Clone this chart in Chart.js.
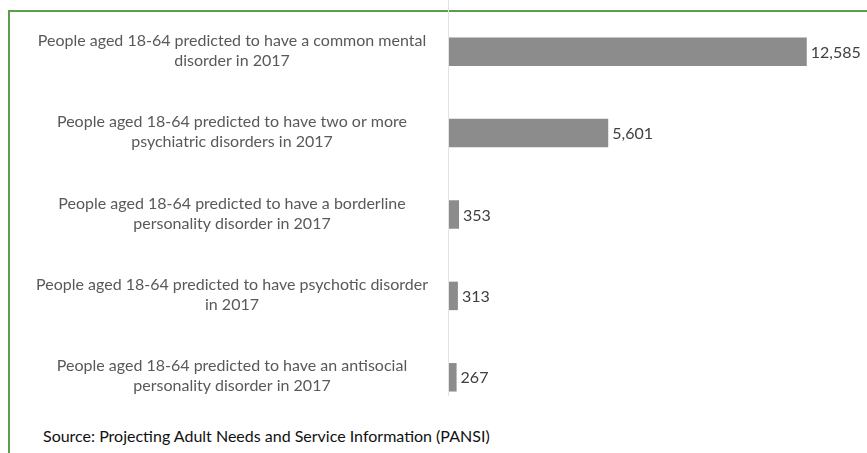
<!DOCTYPE html>
<html>
<head>
<meta charset="utf-8">
<script src="https://cdn.jsdelivr.net/npm/chart.js@4"></script>
<style>
  body { margin: 0; background: #fff; }
  #wrap { position: relative; width: 867px; height: 453px; overflow: hidden; }
  #frame { position: absolute; left: 8px; top: 10px; width: 900px; height: 500px;
           border-top: 2px solid #5b9d4c; border-left: 2px solid #5b9d4c; }
  #chart { position: absolute; left: 0; top: 0; }
  #source { position: absolute; left: 43px; top: 426px; font: 16px Lato, "Open Sans", sans-serif; color: #111; }
</style>
</head>
<body>
<div id="wrap">
  <div id="frame"></div>
  <canvas id="chart" width="867" height="420"></canvas>
  <div id="source">Source: Projecting Adult Needs and Service Information (PANSI)</div>
</div>
<script>
const categories = [
  ['People aged 18-64 predicted to have a common mental', 'disorder in 2017'],
  ['People aged 18-64 predicted to have two or more', 'psychiatric disorders in 2017'],
  ['People aged 18-64 predicted to have a borderline', 'personality disorder in 2017'],
  ['People aged 18-64 predicted to have psychotic disorder', 'in 2017'],
  ['People aged 18-64 predicted to have an antisocial', 'personality disorder in 2017']
];
const values = [12585, 5601, 353, 313, 267];

const fontFamily = 'Lato, "Open Sans", sans-serif';
const axisX = 449;
const labelCenter = 232;

// category labels, centred in the left column at each tick of the y scale
const categoryLabels = {
  id: 'categoryLabels',
  afterDraw(chart) {
    const ctx = chart.ctx;
    const y = chart.scales.y;
    ctx.save();
    ctx.font = '16px ' + fontFamily;
    ctx.fillStyle = '#595959';
    ctx.textAlign = 'center';
    ctx.textBaseline = 'middle';
    categories.forEach((lines, i) => {
      const cy = y.getPixelForTick(i);
      lines.forEach((s, j) => {
        ctx.fillText(s, labelCenter, cy + (j - (lines.length - 1) / 2) * 20 - 1);
      });
    });
    ctx.restore();
  }
};

// thin vertical axis line at zero, running from the top edge down past the last bar
const zeroLine = {
  id: 'zeroLine',
  beforeDatasetsDraw(chart) {
    const ctx = chart.ctx;
    const x = Math.round(chart.scales.x.getPixelForValue(0)) - 0.5;
    ctx.save();
    ctx.strokeStyle = '#e3e3e3';
    ctx.lineWidth = 1;
    ctx.beginPath();
    ctx.moveTo(x, 0);
    ctx.lineTo(x, chart.chartArea.bottom - 22);
    ctx.stroke();
    ctx.restore();
  }
};

const valueLabels = {
  id: 'valueLabels',
  afterDatasetsDraw(chart) {
    const ctx = chart.ctx;
    const meta = chart.getDatasetMeta(0);
    ctx.save();
    ctx.font = '16px ' + fontFamily;
    ctx.fillStyle = '#404040';
    ctx.textBaseline = 'middle';
    ctx.textAlign = 'left';
    meta.data.forEach((bar, i) => {
      ctx.fillText(values[i].toLocaleString('en-GB'), bar.x + 4, bar.y + 1);
    });
    ctx.restore();
  }
};

new Chart(document.getElementById('chart').getContext('2d'), {
  type: 'bar',
  data: {
    labels: categories,
    datasets: [{
      data: values,
      backgroundColor: '#8c8c8c',
      borderWidth: 0,
      barPercentage: 0.7,
      categoryPercentage: 0.5
    }]
  },
  options: {
    indexAxis: 'y',
    responsive: false,
    animation: false,
    layout: { padding: { left: 0, right: 20, top: 11, bottom: 2 } },
    plugins: { legend: { display: false }, tooltip: { enabled: false } },
    scales: {
      x: {
        display: false,
        min: 0,
        max: 14000
      },
      y: {
        afterFit(scale) { scale.width = axisX; },
        grid: { display: false, drawTicks: false },
        border: { display: false },
        ticks: { display: false }
      }
    }
  },
  plugins: [zeroLine, valueLabels, categoryLabels]
});
</script>
</body>
</html>
